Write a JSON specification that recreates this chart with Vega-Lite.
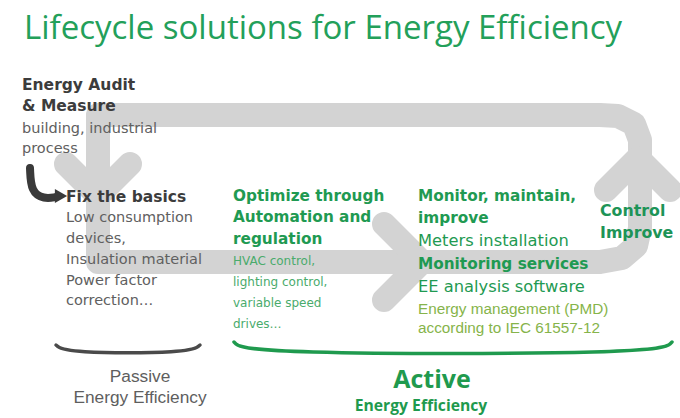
{
  "$schema": "https://vega.github.io/schema/vega-lite/v6.json",
  "width": 680,
  "height": 418,
  "padding": 0,
  "autosize": "none",
  "background": "#ffffff",
  "config": {"view": {"stroke": null}, "axis": {"disable": true}},
  "datasets": {
    "paths": [
      {"seg": "loop", "kind": "cycle", "i": 1, "x": 640, "y": 200},
      {"seg": "loop", "kind": "cycle", "i": 2, "x": 640, "y": 140},
      {"seg": "loop", "kind": "cycle", "i": 3, "x": 634, "y": 124},
      {"seg": "loop", "kind": "cycle", "i": 4, "x": 618, "y": 116},
      {"seg": "loop", "kind": "cycle", "i": 5, "x": 600, "y": 115},
      {"seg": "loop", "kind": "cycle", "i": 6, "x": 98, "y": 115},
      {"seg": "loop", "kind": "cycle", "i": 7, "x": 98, "y": 262},
      {"seg": "loop", "kind": "cycle", "i": 8, "x": 600, "y": 262},
      {"seg": "loop", "kind": "cycle", "i": 9, "x": 622, "y": 258},
      {"seg": "loop", "kind": "cycle", "i": 10, "x": 636, "y": 246},
      {"seg": "loop", "kind": "cycle", "i": 11, "x": 640, "y": 228},
      {"seg": "loop", "kind": "cycle", "i": 12, "x": 640, "y": 200},
      {"seg": "downhead", "kind": "cycle", "i": 1, "x": 66, "y": 164},
      {"seg": "downhead", "kind": "cycle", "i": 2, "x": 98, "y": 196},
      {"seg": "downhead", "kind": "cycle", "i": 3, "x": 130, "y": 164},
      {"seg": "righthead", "kind": "cycle", "i": 1, "x": 384, "y": 224},
      {"seg": "righthead", "kind": "cycle", "i": 2, "x": 422, "y": 262},
      {"seg": "righthead", "kind": "cycle", "i": 3, "x": 384, "y": 300},
      {"seg": "uphead", "kind": "cycle", "i": 1, "x": 606, "y": 190},
      {"seg": "uphead", "kind": "cycle", "i": 2, "x": 638, "y": 158},
      {"seg": "uphead", "kind": "cycle", "i": 3, "x": 670, "y": 190},
      {"seg": "hook", "kind": "hook", "i": 1, "x": 30, "y": 168},
      {"seg": "hook", "kind": "hook", "i": 2, "x": 31, "y": 192},
      {"seg": "hook", "kind": "hook", "i": 3, "x": 44, "y": 199},
      {"seg": "hook", "kind": "hook", "i": 4, "x": 56, "y": 197},
      {"seg": "pbracket", "kind": "passive", "i": 1, "x": 56, "y": 345},
      {"seg": "pbracket", "kind": "passive", "i": 2, "x": 66, "y": 353},
      {"seg": "pbracket", "kind": "passive", "i": 3, "x": 190, "y": 353},
      {"seg": "pbracket", "kind": "passive", "i": 4, "x": 200, "y": 345},
      {"seg": "abracket", "kind": "active", "i": 1, "x": 234, "y": 342},
      {"seg": "abracket", "kind": "active", "i": 2, "x": 246, "y": 354},
      {"seg": "abracket", "kind": "active", "i": 3, "x": 660, "y": 354},
      {"seg": "abracket", "kind": "active", "i": 4, "x": 672, "y": 342}
    ],
    "heads": [
      {"name": "hookhead", "x": 61, "y": 196}
    ],
    "texts": [
      {"t": "Lifecycle solutions for Energy Efficiency", "role": "title", "x": 24, "y": 29},
      {"t": "Energy Audit", "role": "darkhead", "x": 22, "y": 85},
      {"t": "& Measure", "role": "darkhead", "x": 22, "y": 106},
      {"t": "building, industrial", "role": "darkbody", "x": 22, "y": 129},
      {"t": "process", "role": "darkbody", "x": 22, "y": 149},
      {"t": "Fix the basics", "role": "darkhead", "x": 66, "y": 197},
      {"t": "Low consumption", "role": "darkbody", "x": 66, "y": 218},
      {"t": "devices,", "role": "darkbody", "x": 66, "y": 239},
      {"t": "Insulation material", "role": "darkbody", "x": 66, "y": 260},
      {"t": "Power factor", "role": "darkbody", "x": 66, "y": 281},
      {"t": "correction…", "role": "darkbody", "x": 66, "y": 301},
      {"t": "Optimize through", "role": "greenhead", "x": 233, "y": 196},
      {"t": "Automation and", "role": "greenhead", "x": 233, "y": 217},
      {"t": "regulation", "role": "greenhead", "x": 233, "y": 239},
      {"t": "HVAC control,", "role": "greenbody", "x": 233, "y": 261},
      {"t": "lighting control,", "role": "greenbody", "x": 233, "y": 282},
      {"t": "variable speed", "role": "greenbody", "x": 233, "y": 303},
      {"t": "drives…", "role": "greenbody", "x": 233, "y": 324},
      {"t": "Monitor, maintain,", "role": "greenhead", "x": 418, "y": 196},
      {"t": "improve", "role": "greenhead", "x": 418, "y": 218},
      {"t": "Meters installation", "role": "greenmid", "x": 418, "y": 241},
      {"t": "Monitoring services", "role": "greenhead", "x": 418, "y": 264},
      {"t": "EE analysis software", "role": "greenmid", "x": 418, "y": 287},
      {"t": "Energy management (PMD)", "role": "pmd", "x": 418, "y": 309},
      {"t": " according to IEC 61557-12", "role": "pmd", "x": 418, "y": 328},
      {"t": "Control", "role": "control", "x": 600, "y": 211},
      {"t": "Improve", "role": "control", "x": 600, "y": 233},
      {"t": "Passive", "role": "passive", "x": 140, "y": 377},
      {"t": "Energy Efficiency", "role": "passive", "x": 140, "y": 398},
      {"t": "Active", "role": "active", "x": 432, "y": 380},
      {"t": "Energy Efficiency", "role": "activesub", "x": 421, "y": 406}
    ]
  },
  "encoding": {
    "x": {"field": "x", "type": "quantitative", "scale": {"domain": [0, 680], "nice": false, "zero": false}, "axis": null},
    "y": {"field": "y", "type": "quantitative", "scale": {"domain": [0, 418], "nice": false, "zero": false, "reverse": true}, "axis": null}
  },
  "layer": [
    {
      "data": {"name": "paths"},
      "transform": [{"filter": "datum.kind === 'cycle'"}],
      "mark": {"type": "line", "stroke": "#d3d3d3", "strokeWidth": 24, "strokeCap": "round", "strokeJoin": "round"},
      "encoding": {"detail": {"field": "seg"}, "order": {"field": "i", "type": "quantitative"}}
    },
    {
      "data": {"name": "paths"},
      "transform": [{"filter": "datum.kind === 'hook'"}],
      "mark": {"type": "line", "stroke": "#3a3a3a", "strokeWidth": 8, "strokeCap": "round", "interpolate": "basis"},
      "encoding": {"detail": {"field": "seg"}, "order": {"field": "i", "type": "quantitative"}}
    },
    {
      "data": {"name": "heads"},
      "mark": {"type": "point", "shape": "triangle-right", "filled": true, "color": "#3a3a3a", "size": 200, "opacity": 1},
      "encoding": {}
    },
    {
      "data": {"name": "paths"},
      "transform": [{"filter": "datum.kind === 'passive'"}],
      "mark": {"type": "line", "stroke": "#4a4a4a", "strokeWidth": 3.5, "strokeCap": "round", "strokeJoin": "round", "interpolate": "basis"},
      "encoding": {"detail": {"field": "seg"}, "order": {"field": "i", "type": "quantitative"}}
    },
    {
      "data": {"name": "paths"},
      "transform": [{"filter": "datum.kind === 'active'"}],
      "mark": {"type": "line", "stroke": "#1f9a4e", "strokeWidth": 3.5, "strokeCap": "round", "strokeJoin": "round", "interpolate": "basis"},
      "encoding": {"detail": {"field": "seg"}, "order": {"field": "i", "type": "quantitative"}}
    },
    {
      "data": {"name": "texts"},
      "transform": [{"filter": "datum.role === 'title'"}],
      "mark": {"type": "text", "align": "left", "baseline": "middle", "font": "Open Sans", "fontSize": 33, "color": "#23a05a"},
      "encoding": {"text": {"field": "t"}}
    },
    {
      "data": {"name": "texts"},
      "transform": [{"filter": "datum.role === 'darkhead'"}],
      "mark": {"type": "text", "align": "left", "baseline": "middle", "font": "DejaVu Sans", "fontSize": 15.5, "fontWeight": "bold", "color": "#3c3c3c"},
      "encoding": {"text": {"field": "t"}}
    },
    {
      "data": {"name": "texts"},
      "transform": [{"filter": "datum.role === 'darkbody'"}],
      "mark": {"type": "text", "align": "left", "baseline": "middle", "font": "DejaVu Sans", "fontSize": 14.5, "color": "#606060"},
      "encoding": {"text": {"field": "t"}}
    },
    {
      "data": {"name": "texts"},
      "transform": [{"filter": "datum.role === 'greenhead'"}],
      "mark": {"type": "text", "align": "left", "baseline": "middle", "font": "DejaVu Sans", "fontSize": 15.3, "fontWeight": "bold", "color": "#1f9a52"},
      "encoding": {"text": {"field": "t"}}
    },
    {
      "data": {"name": "texts"},
      "transform": [{"filter": "datum.role === 'greenbody'"}],
      "mark": {"type": "text", "align": "left", "baseline": "middle", "font": "DejaVu Sans", "fontSize": 12, "color": "#4aab6c"},
      "encoding": {"text": {"field": "t"}}
    },
    {
      "data": {"name": "texts"},
      "transform": [{"filter": "datum.role === 'greenmid'"}],
      "mark": {"type": "text", "align": "left", "baseline": "middle", "font": "DejaVu Sans", "fontSize": 16.3, "color": "#1f9a52"},
      "encoding": {"text": {"field": "t"}}
    },
    {
      "data": {"name": "texts"},
      "transform": [{"filter": "datum.role === 'pmd'"}],
      "mark": {"type": "text", "align": "left", "baseline": "middle", "font": "Liberation Sans", "fontSize": 15.3, "color": "#86b44a"},
      "encoding": {"text": {"field": "t"}}
    },
    {
      "data": {"name": "texts"},
      "transform": [{"filter": "datum.role === 'control'"}],
      "mark": {"type": "text", "align": "left", "baseline": "middle", "font": "DejaVu Sans", "fontSize": 15.8, "fontWeight": "bold", "color": "#1d9457"},
      "encoding": {"text": {"field": "t"}}
    },
    {
      "data": {"name": "texts"},
      "transform": [{"filter": "datum.role === 'passive'"}],
      "mark": {"type": "text", "align": "center", "baseline": "middle", "font": "Liberation Sans", "fontSize": 17.3, "color": "#5e5e5e"},
      "encoding": {"text": {"field": "t"}}
    },
    {
      "data": {"name": "texts"},
      "transform": [{"filter": "datum.role === 'active'"}],
      "mark": {"type": "text", "align": "center", "baseline": "middle", "font": "Open Sans", "fontSize": 25, "fontWeight": "bold", "color": "#1f9a4e"},
      "encoding": {"text": {"field": "t"}}
    },
    {
      "data": {"name": "texts"},
      "transform": [{"filter": "datum.role === 'activesub'"}],
      "mark": {"type": "text", "align": "center", "baseline": "middle", "font": "Open Sans", "fontSize": 15.7, "fontWeight": "bold", "color": "#1f9a4e"},
      "encoding": {"text": {"field": "t"}}
    }
  ]
}
